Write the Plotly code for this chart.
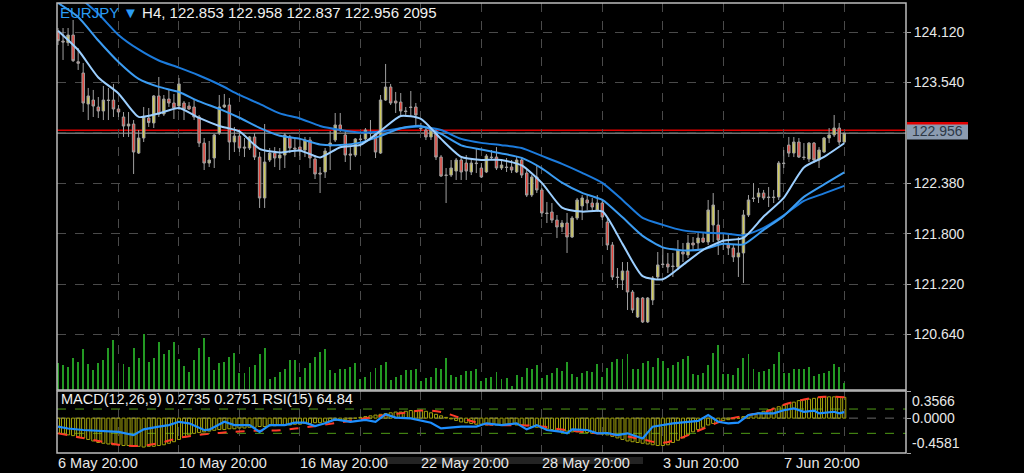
import plotly.graph_objects as go

# ---------------- data ----------------
symbol_text = "EURJPY"
title_rest = " H4, 122.853 122.958 122.837 122.956 2095"
indicator_label = "MACD(12,26,9) 0.2735 0.2751 RSI(15) 64.84"
date_labels = ["6 May 20:00", "10 May 20:00", "16 May 20:00", "22 May 20:00",
               "28 May 20:00", "3 Jun 20:00", "7 Jun 20:00"]
date_label_bars = [0, 24, 48, 72, 96, 120, 144]

price_ticks = [124.12, 123.54, 122.96, 122.38, 121.80, 121.22, 120.64]
price_ticktext = ["124.120", "123.540", "", "122.380", "121.800", "121.220", "120.640"]
bid_price = 122.956
ask_price = 122.990
macd_labels = [0.3566, 0.0, -0.4581]
rsi_levels = [70, 30]

opens = [124.123, 124.016, 123.997, 124.085, 123.778, 123.648, 123.291, 123.337, 123.257, 123.211,
         123.337, 123.337, 123.234, 123.142, 123.038, 123.061, 122.727, 122.900, 123.130, 123.073,
         123.384, 123.176, 123.349, 123.303, 123.268, 123.303, 123.268, 123.257, 123.142, 122.842,
         122.612, 122.670, 122.958, 123.257, 123.280, 122.854, 122.923, 122.796, 122.785, 122.912,
         122.681, 122.210, 122.647, 122.727, 122.670, 122.704, 122.912, 122.785, 122.796, 122.762,
         122.877, 122.658, 122.497, 122.509, 122.808, 122.877, 123.050, 122.935, 122.716, 122.704,
         122.889, 122.889, 122.958, 122.946, 122.727, 123.337, 123.487, 123.326, 123.314, 123.211,
         123.257, 123.257, 123.015, 122.992, 122.912, 122.969, 122.681, 122.474, 122.474, 122.520,
         122.647, 122.612, 122.509, 122.612, 122.555, 122.509, 122.681, 122.681, 122.555, 122.566,
         122.566, 122.509, 122.647, 122.497, 122.244, 122.451, 122.302, 122.037, 122.049, 121.956,
         121.876, 121.922, 121.761, 121.979, 122.118, 122.187, 122.152, 122.072, 122.152, 121.933,
         121.669, 121.301, 121.266, 121.370, 121.128, 120.840, 121.059, 120.783, 121.036, 121.301,
         121.450, 121.450, 121.427, 121.416, 121.588, 121.554, 121.692, 121.692, 121.749, 121.703,
         121.899, 121.899, 121.726, 121.669, 121.634, 121.531, 121.577, 122.014, 122.210, 122.221,
         122.267, 122.221, 122.221, 122.221, 122.612, 122.819, 122.727, 122.854, 122.681, 122.658,
         122.842, 122.647, 122.739, 122.900, 122.935, 123.015, 122.853]
highs = [124.166, 124.166, 124.166, 124.258, 123.936, 123.763, 123.476, 123.453, 123.372, 123.499,
         123.476, 123.522, 123.280, 123.199, 123.199, 123.107, 122.992, 123.257, 123.245, 123.395,
         123.602, 123.395, 123.453, 123.407, 123.591, 123.326, 123.314, 123.337, 123.165, 122.900,
         122.866, 122.946, 123.395, 123.407, 123.361, 123.027, 122.992, 122.900, 122.923, 122.958,
         122.739, 123.061, 122.785, 122.796, 122.785, 122.958, 122.935, 122.900, 122.900, 122.912,
         122.912, 122.704, 122.566, 122.785, 122.981, 123.188, 123.188, 122.992, 122.796, 122.900,
         122.935, 123.015, 123.107, 122.969, 123.395, 123.752, 123.522, 123.430, 123.418, 123.257,
         123.441, 123.303, 123.073, 123.027, 123.015, 123.015, 122.704, 122.555, 122.647, 122.670,
         122.681, 122.704, 122.670, 122.785, 122.612, 122.716, 122.762, 122.796, 122.647, 122.670,
         122.647, 122.693, 122.681, 122.532, 122.474, 122.589, 122.325, 122.164, 122.152, 122.014,
         121.956, 122.037, 122.002, 122.210, 122.244, 122.244, 122.210, 122.244, 122.187, 121.979,
         121.703, 121.404, 121.473, 121.473, 121.151, 121.070, 121.070, 121.070, 121.312, 121.588,
         121.646, 121.577, 121.577, 121.726, 121.692, 121.784, 121.761, 121.807, 121.807, 122.187,
         122.267, 122.072, 121.807, 121.784, 121.669, 121.761, 122.072, 122.244, 122.382, 122.325,
         122.302, 122.336, 122.302, 122.635, 122.762, 122.912, 122.912, 122.900, 122.842, 122.854,
         122.854, 122.796, 122.912, 123.015, 123.165, 123.073, 122.958]
lows = [123.970, 123.798, 123.959, 123.775, 123.683, 123.199, 123.107, 123.142, 123.130, 123.107,
        123.107, 123.142, 123.142, 122.912, 122.912, 122.486, 122.716, 122.854, 123.027, 123.015,
        123.142, 123.153, 123.257, 123.119, 123.222, 123.107, 123.222, 123.107, 122.796, 122.532,
        122.566, 122.555, 122.935, 123.245, 122.647, 122.739, 122.739, 122.681, 122.762, 122.647,
        122.095, 122.095, 122.624, 122.566, 122.532, 122.555, 122.727, 122.681, 122.647, 122.681,
        122.555, 122.428, 122.267, 122.440, 122.532, 122.854, 122.969, 122.624, 122.532, 122.681,
        122.796, 122.854, 122.877, 122.670, 122.716, 123.326, 123.280, 123.188, 123.165, 123.165,
        123.142, 123.027, 122.981, 122.877, 122.877, 122.647, 122.451, 122.152, 122.451, 122.417,
        122.417, 122.417, 122.474, 122.497, 122.440, 122.497, 122.647, 122.532, 122.532, 122.509,
        122.497, 122.497, 122.440, 122.221, 122.221, 122.267, 121.991, 121.922, 121.922, 121.749,
        121.818, 121.577, 121.749, 121.956, 121.956, 122.072, 122.060, 122.049, 121.956, 121.611,
        121.266, 121.174, 121.151, 120.921, 120.886, 120.829, 120.771, 120.771, 120.978, 121.266,
        121.404, 121.347, 121.301, 121.381, 121.473, 121.519, 121.611, 121.611, 121.692, 121.669,
        121.703, 121.554, 121.611, 121.554, 121.473, 121.301, 121.232, 121.991, 122.164, 122.152,
        122.187, 122.106, 122.152, 122.187, 122.555, 122.681, 122.681, 122.670, 122.647, 122.624,
        122.612, 122.555, 122.727, 122.842, 122.912, 122.819, 122.837]
closes = [124.020, 124.005, 124.085, 123.790, 123.760, 123.303, 123.384, 123.268, 123.211, 123.337,
          123.332, 123.234, 123.199, 123.038, 123.061, 122.739, 122.900, 123.142, 123.078, 123.384,
          123.176, 123.349, 123.303, 123.245, 123.522, 123.234, 123.234, 123.142, 122.842, 122.612,
          122.647, 122.935, 123.257, 123.280, 122.854, 122.923, 122.785, 122.785, 122.912, 122.681,
          122.210, 122.624, 122.727, 122.670, 122.704, 122.935, 122.785, 122.773, 122.750, 122.877,
          122.670, 122.486, 122.486, 122.750, 122.842, 123.050, 122.992, 122.704, 122.704, 122.889,
          122.884, 122.992, 122.952, 122.739, 123.337, 123.487, 123.303, 123.303, 123.211, 123.205,
          123.251, 123.165, 123.009, 122.912, 122.992, 122.681, 122.463, 122.470, 122.555, 122.647,
          122.509, 122.520, 122.612, 122.606, 122.451, 122.693, 122.675, 122.555, 122.589, 122.561,
          122.532, 122.647, 122.474, 122.244, 122.451, 122.302, 122.037, 122.031, 121.956, 121.876,
          121.922, 121.761, 121.979, 122.187, 122.210, 122.152, 122.106, 122.152, 121.991, 121.669,
          121.301, 121.295, 121.370, 121.128, 120.921, 121.059, 120.783, 121.059, 121.289, 121.439,
          121.444, 121.416, 121.421, 121.611, 121.565, 121.692, 121.669, 121.749, 121.703, 122.072,
          122.129, 121.726, 121.720, 121.634, 121.531, 121.577, 122.014, 122.187, 122.204, 122.267,
          122.210, 122.215, 122.215, 122.612, 122.606, 122.727, 122.854, 122.681, 122.675, 122.842,
          122.647, 122.762, 122.900, 122.935, 123.015, 122.854, 122.956]
volumes = [8000, 7500, 7000, 9700, 8500, 12300, 7800, 6000, 8200, 9000,
           12700, 15000, 5500, 7800, 7000, 12700, 9700, 16800, 8500, 9700,
           14500, 10800, 12000, 14500, 9300, 7300, 5500, 9000, 12700, 15700,
           10000, 6000, 8200, 8500, 10000, 11200, 5000, 5200, 7000, 7500,
           10800, 12700, 3200, 4000, 5500, 6300, 9000, 9000, 4000, 6500,
           8200, 9800, 11300, 12300, 6000, 5200, 6300, 6300, 7000, 8200,
           3200, 4000, 5500, 6700, 7500, 8500, 3000, 4000, 4500, 6000,
           6000, 6300, 2800, 3500, 3800, 6500, 6300, 9700, 4500, 3800,
           4500, 5800, 5800, 6200, 2700, 3500, 4000, 5500, 3200, 3500,
           1300, 4400, 4000, 6500, 6200, 7400, 3500, 4400, 5200, 6500,
           5800, 8500, 4800, 3800, 5200, 5800, 5500, 7700, 4000, 6500,
           8500, 9300, 9300, 10700, 6200, 6200, 8200, 8800, 7000, 9700,
           8800, 6500, 7500, 8500, 9300, 10300, 4800, 4500, 5000, 7400,
           11200, 13500, 4800, 4800, 4400, 6500, 9700, 10800, 6200, 5500,
           5800, 6200, 7800, 11500, 5000, 5000, 6200, 6200, 6200, 7000,
           4300, 4700, 5000, 5800, 7700, 6800, 2095]

ma_bars = [0, 4, 8, 12, 16, 20, 24, 28, 32, 36, 40, 44, 48, 52, 56, 60, 64, 68, 72, 76,
           80, 84, 88, 92, 96, 100, 104, 108, 112, 116, 120, 124, 128, 132, 136, 140, 144, 148, 152, 156]
ma_fast = [124.135, 123.913, 123.597, 123.413, 123.143, 123.183, 123.246, 123.131, 123.039, 122.976,
           122.775, 122.734, 122.757, 122.677, 122.794, 122.821, 122.982, 123.154, 123.120, 122.890,
           122.683, 122.648, 122.648, 122.585, 122.384, 122.100, 122.053, 122.056, 121.682, 121.310,
           121.274, 121.440, 121.613, 121.717, 121.751, 121.996, 122.211, 122.562, 122.683, 122.840]
ma_mid = [124.454, 124.293, 124.022, 123.775, 123.580, 123.488, 123.430, 123.321, 123.235, 123.133,
          123.016, 122.926, 122.890, 122.826, 122.820, 122.847, 122.924, 123.013, 123.039, 122.947,
          122.815, 122.767, 122.723, 122.671, 122.550, 122.387, 122.269, 122.188, 121.987, 121.774,
          121.642, 121.607, 121.619, 121.682, 121.676, 121.843, 122.004, 122.223, 122.366, 122.504]
ma_slow = [124.741, 124.530, 124.330, 124.086, 123.919, 123.792, 123.710, 123.619, 123.516, 123.396,
           123.292, 123.183, 123.125, 123.039, 122.993, 122.964, 122.976, 123.013, 123.031, 122.993,
           122.890, 122.844, 122.818, 122.786, 122.694, 122.602, 122.499, 122.384, 122.188, 121.981,
           121.901, 121.837, 121.814, 121.803, 121.780, 121.866, 122.010, 122.177, 122.263, 122.349]

macd_main = [-0.20, -0.21, -0.22, -0.23, -0.24, -0.26, -0.28, -0.30, -0.32, -0.33,
             -0.34, -0.35, -0.35, -0.36, -0.36, -0.37, -0.37, -0.38, -0.37, -0.37,
             -0.36, -0.35, -0.33, -0.31, -0.28, -0.25, -0.22, -0.20, -0.19, -0.18,
             -0.17, -0.16, -0.15, -0.15, -0.14, -0.14, -0.13, -0.13, -0.12, -0.12,
             -0.11, -0.11, -0.10, -0.10, -0.09, -0.09, -0.09, -0.08, -0.08, -0.07,
             -0.07, -0.06, -0.06, -0.05, -0.04, -0.03, -0.02, -0.02, -0.01, 0.00,
             0.01, 0.02, 0.03, 0.04, 0.05, 0.06, 0.07, 0.08, 0.08, 0.09,
             0.10, 0.10, 0.10, 0.09, 0.07, 0.05, 0.03, 0.01, -0.01, -0.03,
             -0.05, -0.06, -0.07, -0.08, -0.08, -0.09, -0.09, -0.09, -0.09, -0.08,
             -0.08, -0.09, -0.09, -0.10, -0.11, -0.12, -0.13, -0.14, -0.15, -0.16,
             -0.17, -0.17, -0.18, -0.18, -0.19, -0.19, -0.20, -0.20, -0.21, -0.22,
             -0.24, -0.26, -0.28, -0.30, -0.31, -0.32, -0.33, -0.34, -0.35, -0.36,
             -0.36, -0.35, -0.32, -0.29, -0.26, -0.22, -0.18, -0.15, -0.12, -0.09,
             -0.07, -0.05, -0.03, -0.02, -0.01, 0.00, 0.02, 0.04, 0.06, 0.07,
             0.09, 0.11, 0.13, 0.15, 0.17, 0.19, 0.21, 0.23, 0.24, 0.25,
             0.26, 0.27, 0.28, 0.28, 0.28, 0.28, 0.2735]
signal_bars = ma_bars
macd_signal = [-0.20, -0.25, -0.30, -0.35, -0.365, -0.33, -0.26, -0.22, -0.195, -0.175,
               -0.165, -0.16, -0.13, -0.095, -0.055, -0.015, 0.03, 0.063, 0.10, 0.08,
               0.0, -0.07, -0.092, -0.092, -0.11, -0.15, -0.18, -0.205, -0.23, -0.28,
               -0.325, -0.25, -0.14, -0.03, 0.03, 0.075, 0.175, 0.245, 0.28, 0.2751]
rsi_bars = [0, 2, 5, 8, 12, 15, 17, 20, 22, 24, 26, 29, 30, 33, 35, 38, 40, 42, 45, 47,
            49, 51, 53, 55, 58, 61, 63, 65, 67, 70, 72, 74, 76, 80, 83, 85, 88, 91, 93, 95,
            97, 100, 101, 102, 105, 107, 109, 111, 113, 115, 116, 118, 120, 122, 125, 127, 129, 131, 133, 135,
            137, 139, 142, 144, 146, 148, 150, 151, 154, 155, 156]
rsi_vals = [41, 38, 35.5, 34, 32.5, 27, 36.5, 41, 43.5, 49, 46.5, 35.5, 36, 49, 43.5, 43.5, 32.5, 43.5, 43.5, 47.5,
            47.5, 42, 46.5, 53, 49, 52, 49, 61.5, 56, 54.5, 51, 47.5, 38, 41, 41, 46.5, 43.5, 46.5, 36.5, 43.5,
            35.5, 32.5, 30, 36.5, 35.5, 30, 30.5, 27, 30, 24, 21.5, 41, 43.5, 46.5, 49, 50.5, 60, 49, 46.5, 47.5,
            60, 63, 63, 68, 71, 65.5, 67.5, 63, 65.5, 63, 64.84]

bar_index = list(range(len(closes)))

# ---------------- geometry / style ----------------
W, H = 1024, 473
XL, XR = 57, 906
PT, PB = 3, 390
MT, MB = 391, 453
BAR_PX = 5.04
X0_PX = 58


def fx(px):
    return px / W


def fy(py):
    return 1 - py / H


x_range = [(XL - X0_PX) / BAR_PX, (XR - X0_PX) / BAR_PX]
price_range = [120.0003, 124.4537]
grid_bars = list(range(12, 157, 12))
FONT = "Liberation Sans, Arial, sans-serif"

fig = go.Figure()

# volume (behind candles)
fig.add_trace(go.Bar(x=bar_index, y=volumes, xaxis="x", yaxis="y3", width=0.38,
                     marker=dict(color="#239a23", line=dict(width=0)),
                     hoverinfo="skip", showlegend=False))

fig.add_trace(go.Candlestick(
    x=bar_index, open=opens, high=highs, low=lows, close=closes,
    xaxis="x", yaxis="y",
    increasing=dict(fillcolor="#cfca5a", line=dict(color="#a0a0a0", width=1)),
    decreasing=dict(fillcolor="#e5463d", line=dict(color="#a0a0a0", width=1)),
    whiskerwidth=0, hoverinfo="skip", showlegend=False))

for vals, col in [(ma_slow, "#1c7bdc"), (ma_mid, "#3b9cf2"), (ma_fast, "#9ccfff")]:
    fig.add_trace(go.Scatter(x=ma_bars, y=vals, mode="lines", xaxis="x", yaxis="y",
                             line=dict(color=col, width=2, shape="spline", smoothing=0.6),
                             hoverinfo="skip", showlegend=False))

# MACD / RSI panel
fig.add_trace(go.Bar(x=bar_index, y=macd_main, xaxis="x2", yaxis="y2", width=0.62,
                     marker=dict(color="rgba(0,0,0,0)", line=dict(color="#a3a30c", width=1)),
                     hoverinfo="skip", showlegend=False))
fig.add_trace(go.Scatter(x=signal_bars, y=macd_signal, mode="lines", xaxis="x2", yaxis="y2",
                         line=dict(color="#ff3a2a", width=2, dash="dash", shape="spline"),
                         hoverinfo="skip", showlegend=False))
fig.add_trace(go.Scatter(x=rsi_bars, y=rsi_vals, mode="lines", xaxis="x2", yaxis="y4",
                         line=dict(color="#1e8fff", width=2.2),
                         hoverinfo="skip", showlegend=False))

grid_common = dict(showgrid=True, gridcolor="#4a4a4a", gridwidth=1, griddash="dash",
                   zeroline=False, showticklabels=False, ticks="", tickmode="array",
                   tickvals=grid_bars, range=x_range, automargin=False)

shapes = []
annotations = []

# current price lines
shapes.append(dict(type="line", xref="paper", yref="y", x0=fx(XL), x1=fx(XR),
                   y0=bid_price, y1=bid_price, line=dict(color="#707070", width=1.5), layer="between"))
shapes.append(dict(type="line", xref="paper", yref="y", x0=fx(XL), x1=fx(XR),
                   y0=ask_price, y1=ask_price, line=dict(color="#e00000", width=1.6), layer="between"))
# MACD zero / RSI levels
shapes.append(dict(type="line", xref="paper", yref="y2", x0=fx(XL), x1=fx(XR), y0=0, y1=0,
                   line=dict(color="#6a6a6a", width=1, dash="dash"), layer="between"))
for lv in rsi_levels:
    shapes.append(dict(type="line", xref="paper", yref="y4", x0=fx(XL), x1=fx(XR), y0=lv, y1=lv,
                       line=dict(color="#4f9a16", width=1, dash="dash"), layer="between"))
# panel frames
for top, bot in [(PT, PB), (MT, MB)]:
    shapes.append(dict(type="rect", xref="paper", yref="paper", x0=fx(XL), x1=fx(XR),
                       y0=fy(bot), y1=fy(top), line=dict(color="#bcbcbc", width=1.5),
                       fillcolor="rgba(0,0,0,0)", layer="above"))
# scroll indicator under the time axis
shapes.append(dict(type="rect", xref="paper", yref="paper", x0=fx(383), x1=fx(643),
                   y0=fy(464), y1=fy(457), line=dict(width=0), fillcolor="#242424", layer="below"))
# price label box
shapes.append(dict(type="rect", xref="paper", yref="paper", x0=fx(907), x1=fx(968),
                   y0=fy(139.5), y1=fy(122), line=dict(width=0), fillcolor="#8b9bb0", layer="above"))
shapes.append(dict(type="rect", xref="paper", yref="paper", x0=fx(907), x1=fx(968),
                   y0=fy(124.5), y1=fy(122), line=dict(width=0), fillcolor="#e00000", layer="above"))

annotations.append(dict(xref="paper", yref="paper", x=fx(937.5), y=fy(131.5), text=f"{bid_price:.3f}",
                        showarrow=False, xanchor="center", yanchor="middle",
                        font=dict(family=FONT, size=14, color="#2d3846")))
annotations.append(dict(xref="paper", yref="paper", x=fx(58), y=fy(13),
                        text=f"<span style='color:#2a9cf5'>{symbol_text} ▼</span>{title_rest}",
                        showarrow=False, xanchor="left", yanchor="middle",
                        font=dict(family=FONT, size=15, color="#f0f0f0")))
annotations.append(dict(xref="paper", yref="paper", x=fx(59), y=fy(399), text=indicator_label,
                        showarrow=False, xanchor="left", yanchor="middle",
                        font=dict(family=FONT, size=14.5, color="#f0f0f0")))
for lab, b in zip(date_labels, date_label_bars):
    annotations.append(dict(xref="x2", yref="paper", x=b, y=fy(462.5), text=lab, showarrow=False,
                            xanchor="left", yanchor="middle", xshift=-2,
                            font=dict(family=FONT, size=14.5, color="#e8e8e8")))
for v, anch in zip(macd_labels, ["top", "middle", "bottom"]):
    annotations.append(dict(xref="paper", yref="y2", x=fx(910), y=v, text=f"{v:.4f}",
                            showarrow=False, xanchor="left", yanchor=anch,
                            font=dict(family=FONT, size=14, color="#e8e8e8")))

fig.update_layout(
    width=W, height=H, margin=dict(l=0, r=0, t=0, b=0),
    paper_bgcolor="#000000", plot_bgcolor="#000000",
    showlegend=False, barmode="overlay", bargap=0,
    xaxis=dict(domain=[fx(XL), fx(XR)], anchor="y", rangeslider=dict(visible=False), **grid_common),
    xaxis2=dict(domain=[fx(XL), fx(XR)], anchor="y2", matches="x", **grid_common),
    yaxis=dict(domain=[fy(PB), fy(PT)], anchor="x", side="right", range=price_range,
               tickmode="array", tickvals=price_ticks, ticktext=price_ticktext,
               showgrid=True, gridcolor="#4a4a4a", griddash="dash", zeroline=False,
               ticks="outside", ticklen=4, tickcolor="#a8a8a8",
               showline=False, automargin=False,
               tickfont=dict(family=FONT, size=14, color="#e8e8e8")),
    yaxis3=dict(overlaying="y", anchor="x", range=[0, 116100], visible=False),
    yaxis2=dict(domain=[fy(MB), fy(MT)], anchor="x2", side="right", range=[-0.4581, 0.3566],
                tickmode="array", tickvals=macd_labels, ticktext=["", "", ""],
                ticks="outside", ticklen=4, tickcolor="#a8a8a8",
                showgrid=False, zeroline=False, automargin=False),
    yaxis4=dict(overlaying="y2", anchor="x2", range=[-2.4, 99.7], visible=False),
    shapes=shapes, annotations=annotations,
)

fig.write_html("out.html", config={"displayModeBar": False, "staticPlot": True},
               post_script="document.body.style.margin='0';document.body.style.background='#000';")
